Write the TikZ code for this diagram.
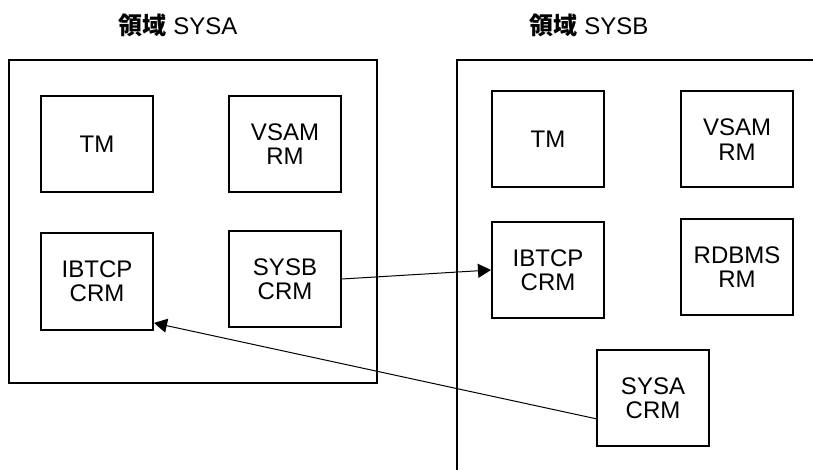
\documentclass[tikz,border=0pt]{standalone}
\usepackage{fontspec}
\setmainfont{Liberation Sans}
\newfontfamily\cjk{Noto Sans CJK JP}
\usetikzlibrary{arrows.meta}

\tikzset{
  rmbox/.style={draw, line width=1pt, minimum width=56pt, minimum height=48pt,
    inner sep=0pt, align=center, font=\fontsize{12}{12.2}\selectfont},
  regionline/.style={line width=1pt},
  link/.style={line width=0.5pt, -{Triangle[length=6.5pt,width=7pt]}},
  regiontitle/.style={font=\fontsize{12}{14}\selectfont}
}

\begin{document}
\begin{tikzpicture}[x=0.5pt,y=-0.5pt]
\useasboundingbox (0,0) rectangle (813,470);

% region SYSA
\node[regiontitle] (titlea) at (178,25) {{\cjk\bfseries 領域} SYSA};
\draw[regionline] (9,60) rectangle (377,383);

\node[rmbox] (tma) at (97,144) {TM};
\node[rmbox] (vsama) at (285,144) {VSAM\\RM};
\node[rmbox] (ibtcpa) at (97,281.5) {IBTCP\\CRM};
\node[rmbox] (sysbcrm) at (285,279) {SYSB\\CRM};

% region SYSB (runs off the page to the right and bottom)
\node[regiontitle] (titleb) at (589,25) {{\cjk\bfseries 領域} SYSB};
\draw[regionline] (457,471) -- (457,60) -- (814,60);

\node[rmbox] (tmb) at (548,139.5) {TM};
\node[rmbox] (vsamb) at (737,139.5) {VSAM\\RM};
\node[rmbox] (ibtcpb) at (548,270) {IBTCP\\CRM};
\node[rmbox] (rdbms) at (737,267) {RDBMS\\RM};
\node[rmbox] (sysacrm) at (653,398) {SYSA\\CRM};

% links between the two regions
\draw[link] (sysbcrm.east) -- (ibtcpb.west);
\draw[link] (sysacrm.200) -- (ibtcpa.-36);
\end{tikzpicture}
\end{document}
